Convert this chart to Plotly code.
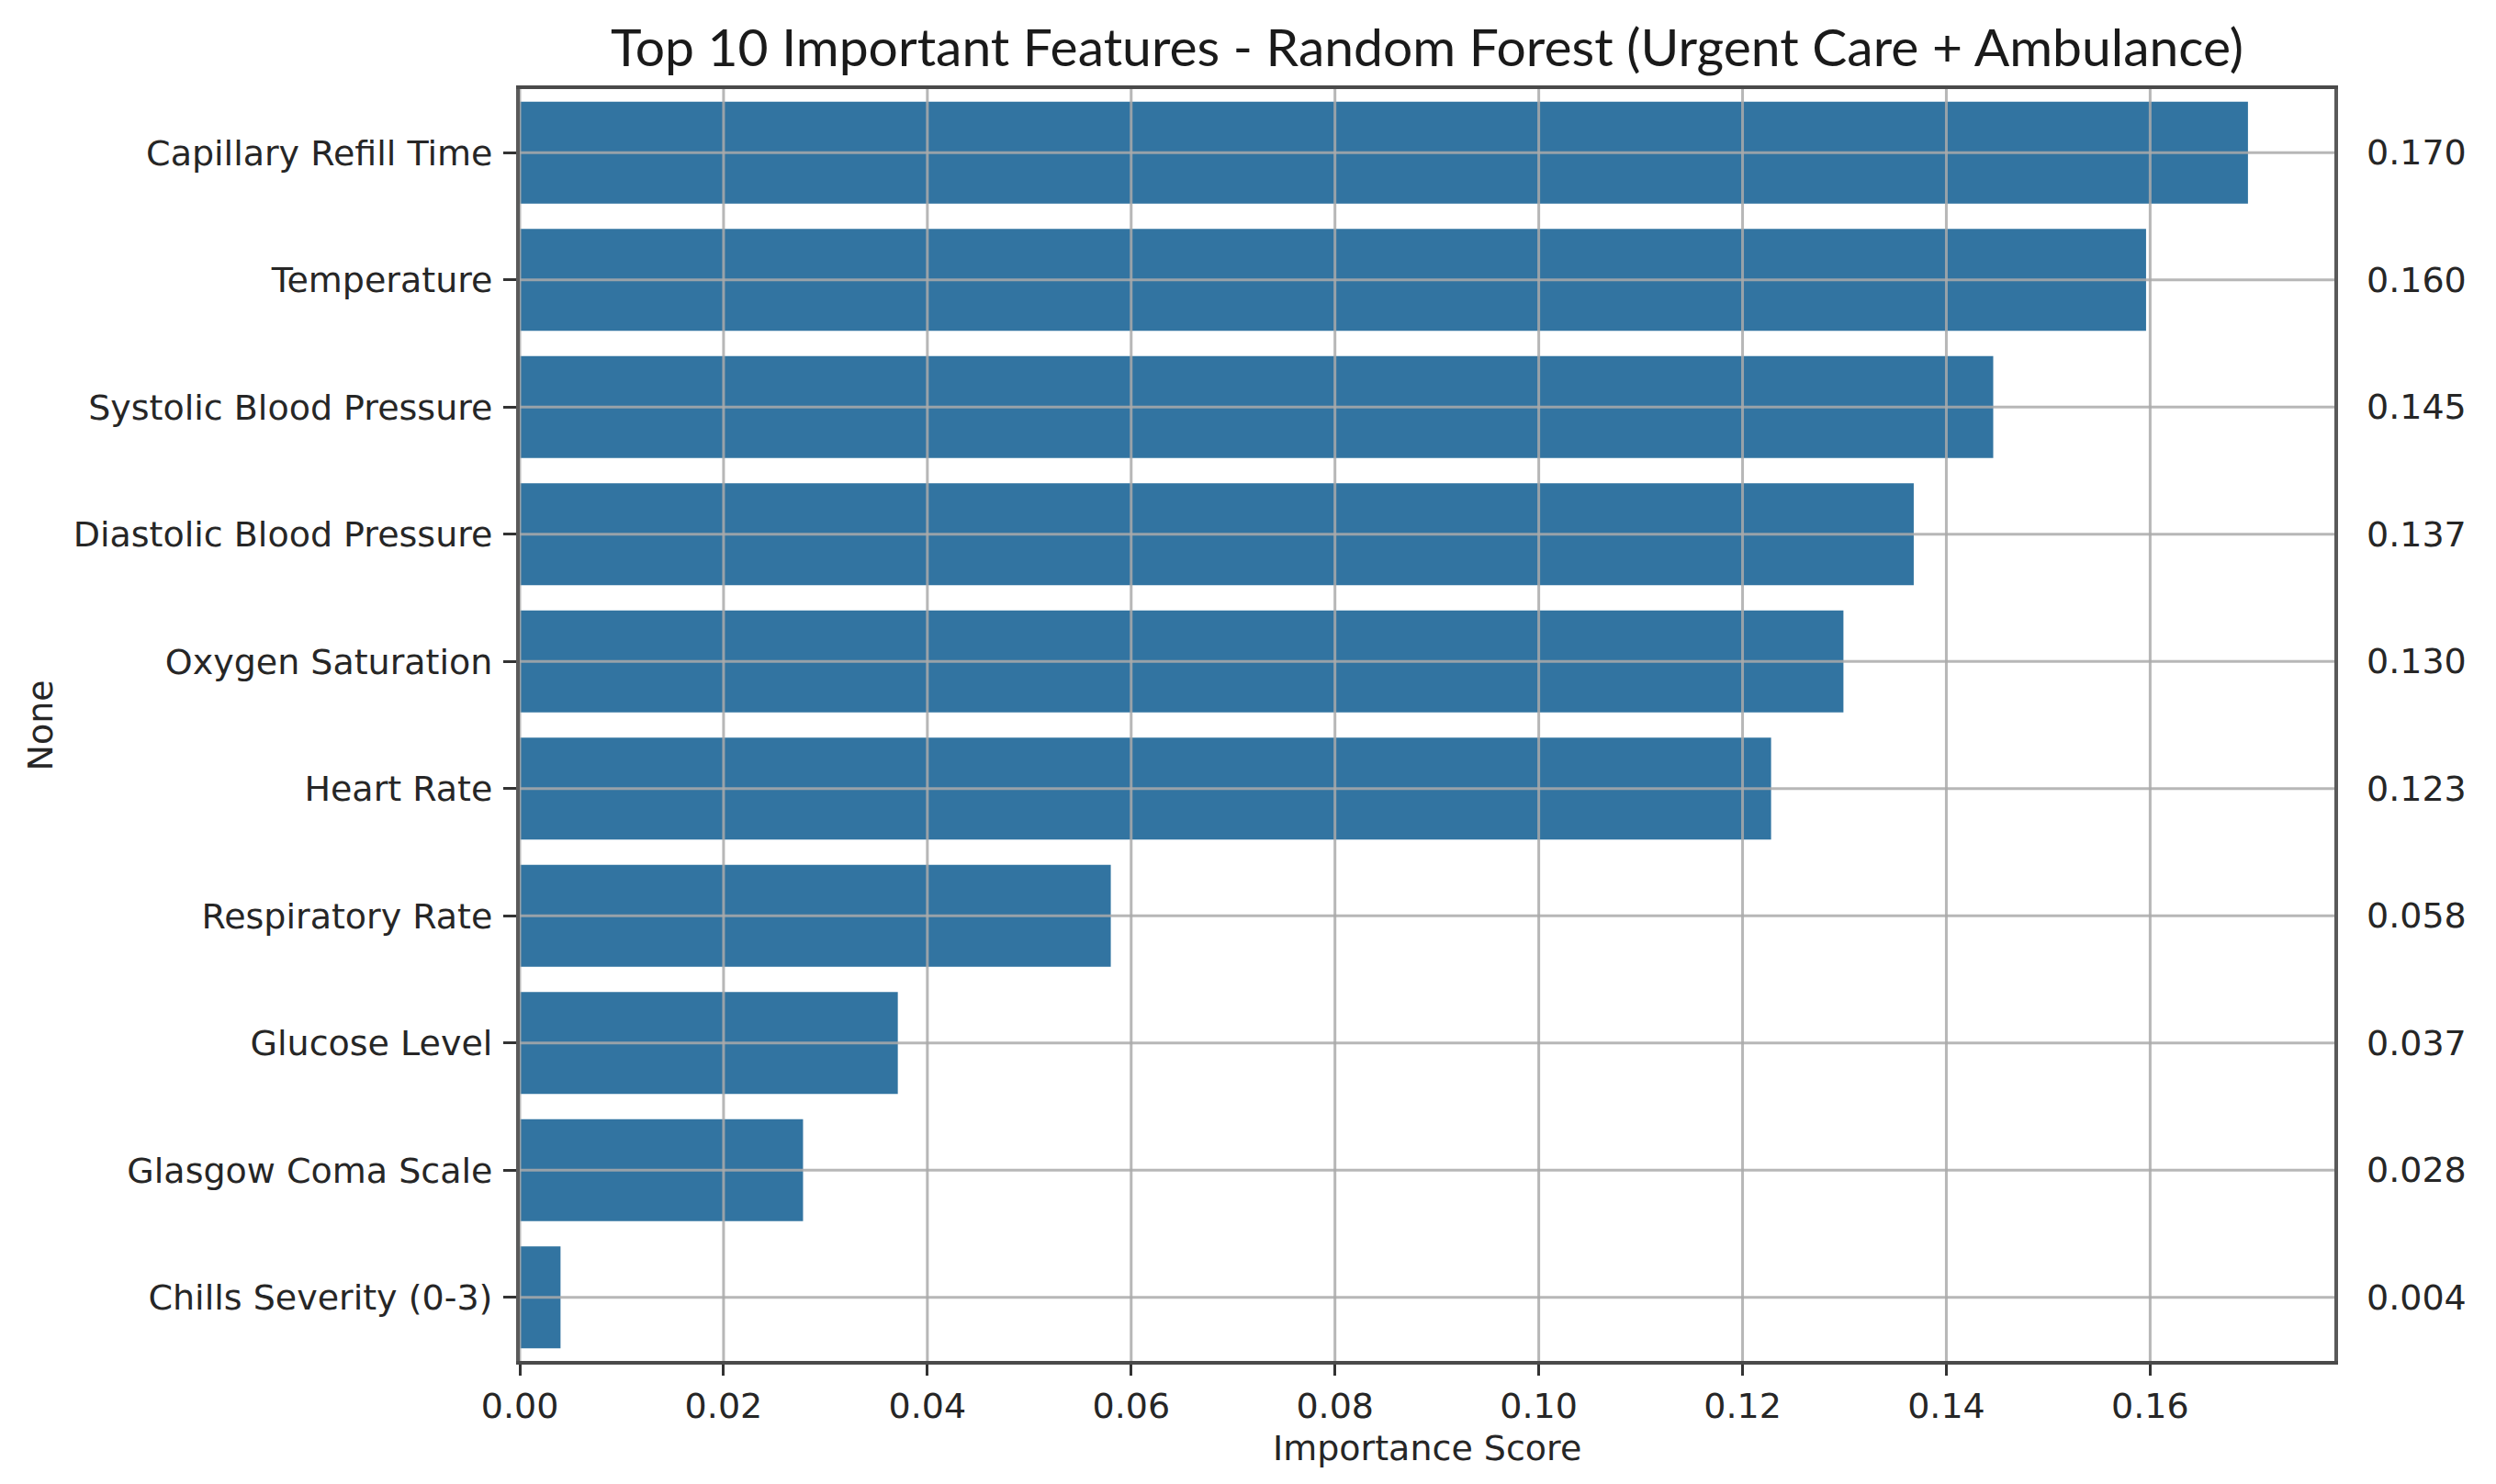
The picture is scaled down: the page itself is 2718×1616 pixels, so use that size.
import plotly.graph_objects as go

features = [
    "Capillary Refill Time",
    "Temperature",
    "Systolic Blood Pressure",
    "Diastolic Blood Pressure",
    "Oxygen Saturation",
    "Heart Rate",
    "Respiratory Rate",
    "Glucose Level",
    "Glasgow Coma Scale",
    "Chills Severity (0-3)",
]
importance = [0.1696, 0.1596, 0.1446, 0.1368, 0.1299, 0.1228, 0.0580, 0.0371, 0.0278, 0.0040]
x_ticks = [0.00, 0.02, 0.04, 0.06, 0.08, 0.10, 0.12, 0.14, 0.16]

# page body has an 8px margin, so the figure is slightly smaller and offset
W, H = 2710, 1600
L, R, T, B = 558, 176, 89, 126
TICK_FONT = dict(family="DejaVu Sans", size=38, color="#262626")
GRID = "rgba(170,170,170,0.85)"
x_max = max(importance) * 1.05

fig = go.Figure()
fig.add_trace(go.Bar(
    x=importance, y=features, orientation="h", width=0.8,
    marker=dict(color="#3274a1", line=dict(width=0)),
    showlegend=False, hoverinfo="x+y",
))

# gridlines drawn above bars (as in reference)
shapes = []
for xv in x_ticks:
    shapes.append(dict(type="line", xref="x", yref="paper", x0=xv, x1=xv, y0=0, y1=1,
                       line=dict(color=GRID, width=3), layer="above"))
for f in features:
    shapes.append(dict(type="line", xref="paper", yref="y", x0=0, x1=1, y0=f, y1=f,
                       line=dict(color=GRID, width=3), layer="above"))

annotations = []
for f, v in zip(features, importance):
    annotations.append(dict(xref="paper", yref="y", x=1.0165, y=f, text=f"{v:.3f}",
                            showarrow=False, xanchor="left", yanchor="middle",
                            font=TICK_FONT))
annotations.append(dict(xref="paper", yref="paper", x=-0.2642, y=0.5, text="None",
                        textangle=-90, showarrow=False, xanchor="center", yanchor="middle",
                        font=TICK_FONT))
annotations.append(dict(xref="paper", yref="paper", x=0.5, y=-0.0686, text="Importance Score",
                        showarrow=False, xanchor="center", yanchor="middle",
                        font=TICK_FONT))

fig.update_layout(
    width=W, height=H,
    margin=dict(l=L, r=R, t=T, b=B, autoexpand=False),
    paper_bgcolor="white", plot_bgcolor="white",
    title=dict(text="Top 10 Important Features - Random Forest (Urgent Care + Ambulance)",
               font=dict(family="Lato", size=57, color="#1a1a1a"),
               x=0.5, xref="paper", xanchor="center",
               y=1 - 44 / H, yref="container", yanchor="middle"),
    shapes=shapes,
    annotations=annotations,
    xaxis=dict(range=[0, x_max], tickvals=x_ticks, tickformat=".2f",
               showgrid=False, zeroline=False,
               showline=True, linecolor="#4a4a4a", linewidth=4, mirror=True,
               ticks="outside", ticklen=12, tickwidth=3, tickcolor="#333",
               tickfont=TICK_FONT, automargin=False),
    yaxis=dict(categoryorder="array", categoryarray=features, autorange="reversed",
               range=[len(features) - 0.5, -0.5],
               showgrid=False, zeroline=False,
               showline=True, linecolor="#5a5a5a", linewidth=4, mirror=True,
               ticks="outside", ticklen=14, tickwidth=3, tickcolor="#333",
               ticklabelstandoff=4,
               tickfont=TICK_FONT, automargin=False),
)

fig.write_html("out.html")
